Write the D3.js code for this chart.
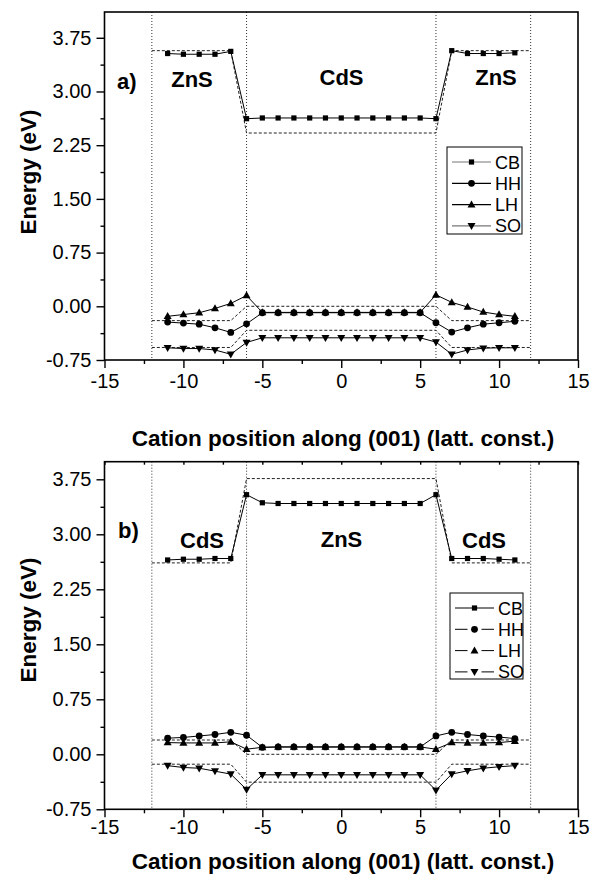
<!DOCTYPE html>
<html>
<head>
<meta charset="utf-8">
<script src="https://cdn.jsdelivr.net/npm/d3@7"></script>
<style>
  body { margin: 0; background: #fff; }
  text { font-family: "Liberation Sans", Arial, Helvetica, sans-serif; }
</style>
</head>
<body>
<svg id="chart" width="592" height="880"></svg>
<script>
// Cation positions along (001), in lattice constants
const positions = d3.range(-11, 12);

// Panel a: CdS well (|x| < 6) between ZnS barriers
const cbA = [3.53, 3.52, 3.52, 3.52, 3.56, 2.62, 2.63, 2.63, 2.63, 2.63, 2.63, 2.63,
             2.63, 2.63, 2.63, 2.63, 2.63, 2.62, 3.57, 3.53, 3.53, 3.53, 3.54];
const hhA = [-0.22, -0.235, -0.25, -0.30, -0.365, -0.245, -0.09, -0.09, -0.09, -0.09, -0.09, -0.09,
             -0.09, -0.09, -0.09, -0.09, -0.09, -0.23, -0.36, -0.30, -0.25, -0.23, -0.21];
const lhA = [-0.14, -0.115, -0.09, -0.03, 0.04, 0.15, -0.085, -0.085, -0.085, -0.085, -0.085, -0.085,
             -0.085, -0.085, -0.085, -0.085, -0.085, 0.16, 0.055, -0.01, -0.08, -0.115, -0.14];
const soA = [-0.58, -0.59, -0.59, -0.61, -0.67, -0.505, -0.44, -0.44, -0.44, -0.44, -0.44, -0.44,
             -0.44, -0.44, -0.44, -0.44, -0.44, -0.50, -0.67, -0.61, -0.585, -0.58, -0.58];

// Panel b: ZnS well (|x| < 6) between CdS barriers
const cbB = [2.65, 2.66, 2.66, 2.67, 2.67, 3.54, 3.43, 3.42, 3.42, 3.42, 3.42, 3.42,
             3.42, 3.42, 3.42, 3.42, 3.42, 3.54, 2.67, 2.67, 2.67, 2.66, 2.65];
const hhB = [0.22, 0.23, 0.25, 0.27, 0.30, 0.26, 0.095, 0.10, 0.10, 0.10, 0.10, 0.10,
             0.10, 0.10, 0.10, 0.10, 0.10, 0.25, 0.30, 0.27, 0.25, 0.235, 0.215];
const lhB = [0.16, 0.155, 0.155, 0.155, 0.17, 0.07, 0.095, 0.10, 0.10, 0.10, 0.10, 0.10,
             0.10, 0.10, 0.10, 0.10, 0.10, 0.07, 0.16, 0.155, 0.155, 0.16, 0.18];
const soB = [-0.155, -0.18, -0.19, -0.23, -0.27, -0.48, -0.28, -0.28, -0.28, -0.28, -0.28, -0.28,
             -0.28, -0.28, -0.28, -0.28, -0.28, -0.49, -0.27, -0.225, -0.19, -0.17, -0.155];

// Bulk band edges (dashed guides)
const bulkX = [-12, -7, -6, 6, 7, 12];
const bulkCbA = [3.57, 3.57, 2.42, 2.42, 3.57, 3.57];
const bulkHhA = [-0.20, -0.20, 0.0, 0.0, -0.20, -0.20];
const bulkSoA = [-0.575, -0.575, -0.335, -0.335, -0.575, -0.575];
const bulkCbB = [2.61, 2.61, 3.76, 3.76, 2.61, 2.61];
const bulkHhB = [0.195, 0.195, 0.0, 0.0, 0.195, 0.195];
const bulkSoB = [-0.135, -0.135, -0.38, -0.38, -0.135, -0.135];

// Interface positions (dotted verticals)
const interfaces = [-12, -6, 6, 12];

// Axis ticks
const xMajor = [-15, -10, -5, 0, 5, 10, 15];
const xMinor = [-12.5, -7.5, -2.5, 2.5, 7.5, 12.5];
const yMajor = [-0.75, 0.0, 0.75, 1.5, 2.25, 3.0, 3.75];
const yMinor = [-0.375, 0.375, 1.125, 1.875, 2.625, 3.375];

const bands = ["CB", "HH", "LH", "SO"];
const symbols = { CB: "square", HH: "circle", LH: "up", SO: "down" };

const svg = d3.select("#chart");
const hyphen = s => s.replace("\u2212", "-");

function marker(g, kind, x, y) {
  if (kind === "square") {
    g.append("rect").attr("x", x - 2.6).attr("y", y - 2.6).attr("width", 5.2).attr("height", 5.2).attr("fill", "#000");
  } else if (kind === "circle") {
    g.append("circle").attr("cx", x).attr("cy", y).attr("r", 3.4).attr("fill", "#000");
  } else if (kind === "up") {
    g.append("path").attr("d", `M${x},${y - 4.2}L${x + 4},${y + 2.8}L${x - 4},${y + 2.8}Z`).attr("fill", "#000");
  } else {
    g.append("path").attr("d", `M${x},${y + 4.2}L${x + 4},${y - 2.8}L${x - 4},${y - 2.8}Z`).attr("fill", "#000");
  }
}

function drawPanel(cfg) {
  const g = svg.append("g");
  const x = d3.scaleLinear().domain([-15, 15]).range([104.5, 578]);
  const y = d3.scaleLinear().domain(cfg.yDomain).range([cfg.bottom, cfg.top]);

  // interface lines
  g.selectAll("line.iface").data(interfaces).join("line")
    .attr("x1", d => x(d)).attr("x2", d => x(d))
    .attr("y1", cfg.top).attr("y2", cfg.bottom)
    .attr("stroke", "#333").attr("stroke-width", 1).attr("stroke-dasharray", "1,2");

  // bulk band edges
  const bulkLine = d3.line().x((d, i) => x(bulkX[i])).y(d => y(d));
  [cfg.bulkCb, cfg.bulkHh, cfg.bulkSo].forEach(arr => {
    g.append("path").attr("d", bulkLine(arr)).attr("fill", "none")
      .attr("stroke", "#222").attr("stroke-width", 1).attr("stroke-dasharray", "3,2");
  });

  // band profiles
  const line = d3.line().x((d, i) => x(positions[i])).y(d => y(d));
  cfg.series.forEach(vals => {
    g.append("path").attr("d", line(vals)).attr("fill", "none")
      .attr("stroke", "#000").attr("stroke-width", 1);
  });
  cfg.series.forEach((vals, k) => {
    vals.forEach((v, i) => marker(g, symbols[bands[k]], x(positions[i]), y(v)));
  });

  // frame
  g.append("rect").attr("x", x(-15)).attr("y", cfg.top)
    .attr("width", x(15) - x(-15)).attr("height", cfg.bottom - cfg.top)
    .attr("fill", "none").attr("stroke", "#000").attr("stroke-width", 1.6);

  // axes
  g.append("g").attr("transform", `translate(0,${cfg.bottom})`)
    .call(d3.axisBottom(x).tickValues(xMajor).tickSize(8).tickPadding(cfg.xPad).tickFormat(d => String(d)));
  g.append("g").attr("transform", `translate(0,${cfg.bottom})`)
    .call(d3.axisBottom(x).tickValues(xMinor).tickSize(4).tickFormat(""));
  g.append("g").attr("transform", `translate(${x(-15)},0)`)
    .call(d3.axisLeft(y).tickValues(yMajor).tickSize(8).tickPadding(5).tickFormat(d => hyphen(d3.format(".2f")(d))));
  g.append("g").attr("transform", `translate(${x(-15)},0)`)
    .call(d3.axisLeft(y).tickValues(yMinor).tickSize(4).tickFormat(""));
  if (cfg.topTicks) {
    g.append("g").attr("transform", `translate(0,${cfg.top})`)
      .call(d3.axisBottom(x).tickValues(xMajor.concat(xMinor)).tickSize(3).tickFormat(""));
  }
  g.selectAll(".domain").remove();
  g.selectAll(".tick line").attr("stroke", "#000").attr("stroke-width", 1.4);
  g.selectAll(".tick text").attr("font-size", 20).attr("fill", "#000")
    .style("font-family", '"Liberation Sans", Arial, sans-serif');

  // axis titles
  g.append("text").attr("x", 343).attr("y", cfg.xTitleY)
    .attr("text-anchor", "middle").attr("font-size", 22.5).attr("font-weight", "bold")
    .text("Cation position along (001) (latt. const.)");
  g.append("text").attr("transform", `translate(36,${cfg.yTitleY}) rotate(-90)`)
    .attr("text-anchor", "middle").attr("font-size", 22.5).attr("font-weight", "bold")
    .text("Energy (eV)");

  // region labels
  cfg.labels.forEach(l => {
    g.append("text").attr("x", l.x).attr("y", l.y).attr("text-anchor", l.anchor || "middle")
      .attr("font-size", 22).attr("font-weight", "bold").text(l.text);
  });

  // legend
  const L = cfg.legend;
  g.append("rect").attr("x", L.x).attr("y", L.y).attr("width", L.w).attr("height", L.h)
    .attr("fill", "#fff").attr("stroke", "#000").attr("stroke-width", 1);
  bands.forEach((b, i) => {
    const ly = L.y + 15 + i * 21.3;
    const lx0 = L.x + 5, lx1 = L.x + 44, mx = (lx0 + lx1) / 2;
    if (L.gap && i > 0) {
      g.append("line").attr("x1", lx0).attr("x2", mx - 7).attr("y1", ly).attr("y2", ly).attr("stroke", "#000");
      g.append("line").attr("x1", mx + 7).attr("x2", lx1).attr("y1", ly).attr("y2", ly).attr("stroke", "#000");
    } else {
      g.append("line").attr("x1", lx0).attr("x2", lx1).attr("y1", ly).attr("y2", ly)
        .attr("stroke", L.colors[i]).attr("stroke-width", 1.2);
    }
    marker(g, symbols[b], mx, ly);
    g.append("text").attr("x", lx1 + 4).attr("y", ly + 6.5).attr("font-size", 18).text(b);
  });
}

drawPanel({
  top: 12, bottom: 360, yDomain: [-0.75, 4.11], yTitleY: 172, xTitleY: 446, xPad: 6,
  series: [cbA, hhA, lhA, soA],
  bulkCb: bulkCbA, bulkHh: bulkHhA, bulkSo: bulkSoA,
  topTicks: false,
  labels: [
    { text: "a)", x: 117, y: 89, anchor: "start" },
    { text: "ZnS", x: 192, y: 87 },
    { text: "CdS", x: 341.5, y: 85 },
    { text: "ZnS", x: 496, y: 85 }
  ],
  legend: { x: 447, y: 147, w: 75, h: 87, gap: false, colors: ["#777", "#000", "#000", "#777"] }
});

drawPanel({
  top: 461.7, bottom: 809.3, yDomain: [-0.75, 3.99], yTitleY: 620, xTitleY: 869, xPad: 3,
  series: [cbB, hhB, lhB, soB],
  bulkCb: bulkCbB, bulkHh: bulkHhB, bulkSo: bulkSoB,
  topTicks: true,
  labels: [
    { text: "b)", x: 118, y: 538, anchor: "start" },
    { text: "CdS", x: 202, y: 548 },
    { text: "ZnS", x: 341.5, y: 547 },
    { text: "CdS", x: 484, y: 548 }
  ],
  legend: { x: 450, y: 593, w: 73, h: 86, gap: true, colors: ["#000", "#000", "#000", "#000"] }
});
</script>
</body>
</html>
